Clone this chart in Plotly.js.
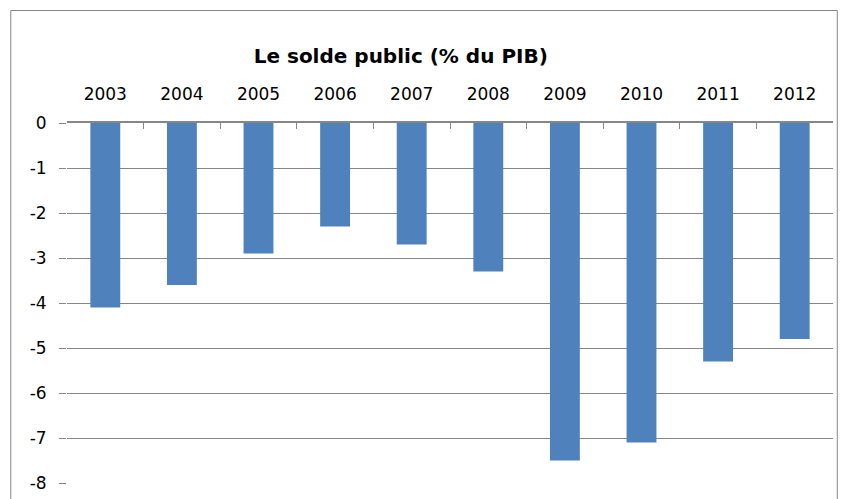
<!DOCTYPE html>
<html>
<head>
<meta charset="utf-8">
<script src="https://cdn.plot.ly/plotly-3.0.1.min.js"></script>
<style>html,body{margin:0;padding:0;background:#fff;}#chart{width:842px;height:499px;}</style>
</head>
<body>
<div id="chart"></div>
<script>
var years = ["2003","2004","2005","2006","2007","2008","2009","2010","2011","2012"];
var solde = [-4.1, -3.6, -2.9, -2.3, -2.7, -3.3, -7.5, -7.1, -5.3, -4.8];
var yTicks = [0, -1, -2, -3, -4, -5, -6, -7, -8];
var chartTitle = "Le solde public (% du PIB)";

var trace = {
  type: "bar",
  x: years,
  y: solde,
  marker: {color: "#4F81BD"},
  hoverinfo: "x+y"
};

var layout = {
  width: 842,
  height: 499,
  margin: {l: 67, r: 9, t: 123, b: 16},
  paper_bgcolor: "#ffffff",
  plot_bgcolor: "#ffffff",
  showlegend: false,
  bargap: 0.61,
  font: {family: "DejaVu Sans", size: 17, color: "#000000"},
  title: {
    text: "<b>" + chartTitle + "</b>",
    font: {family: "DejaVu Sans", size: 20, color: "#000000"},
    x: 0.476, xanchor: "center",
    y: 0.888, yanchor: "middle",
    xref: "container", yref: "container"
  },
  xaxis: {
    type: "category",
    side: "top",
    showgrid: false,
    showline: true,
    linecolor: "#868686",
    linewidth: 2,
    ticks: "inside",
    tickson: "boundaries",
    ticklen: 6,
    tickcolor: "#868686",
    tickwidth: 1,
    ticklabelstandoff: 14,
    tickfont: {family: "DejaVu Sans", size: 17, color: "#000000"},
    fixedrange: true
  },
  yaxis: {
    range: [-8, 0],
    tickvals: yTicks,
    ticktext: yTicks.map(String),
    showgrid: true,
    gridcolor: "#868686",
    gridwidth: 1,
    zeroline: false,
    showline: false,
    ticks: "outside",
    ticklen: 7,
    tickcolor: "#868686",
    tickwidth: 1,
    ticklabelstandoff: 9,
    tickfont: {family: "DejaVu Sans", size: 17, color: "#000000"},
    fixedrange: true
  },
  shapes: [{
    type: "rect",
    xref: "paper", yref: "paper",
    x0: -0.0734, x1: 1.0056,
    y0: -0.2, y1: 1.3125,
    line: {color: "#868686", width: 1},
    fillcolor: "rgba(0,0,0,0)",
    layer: "below"
  }]
};

Plotly.newPlot("chart", [trace], layout, {staticPlot: true, displayModeBar: false});
</script>
</body>
</html>
